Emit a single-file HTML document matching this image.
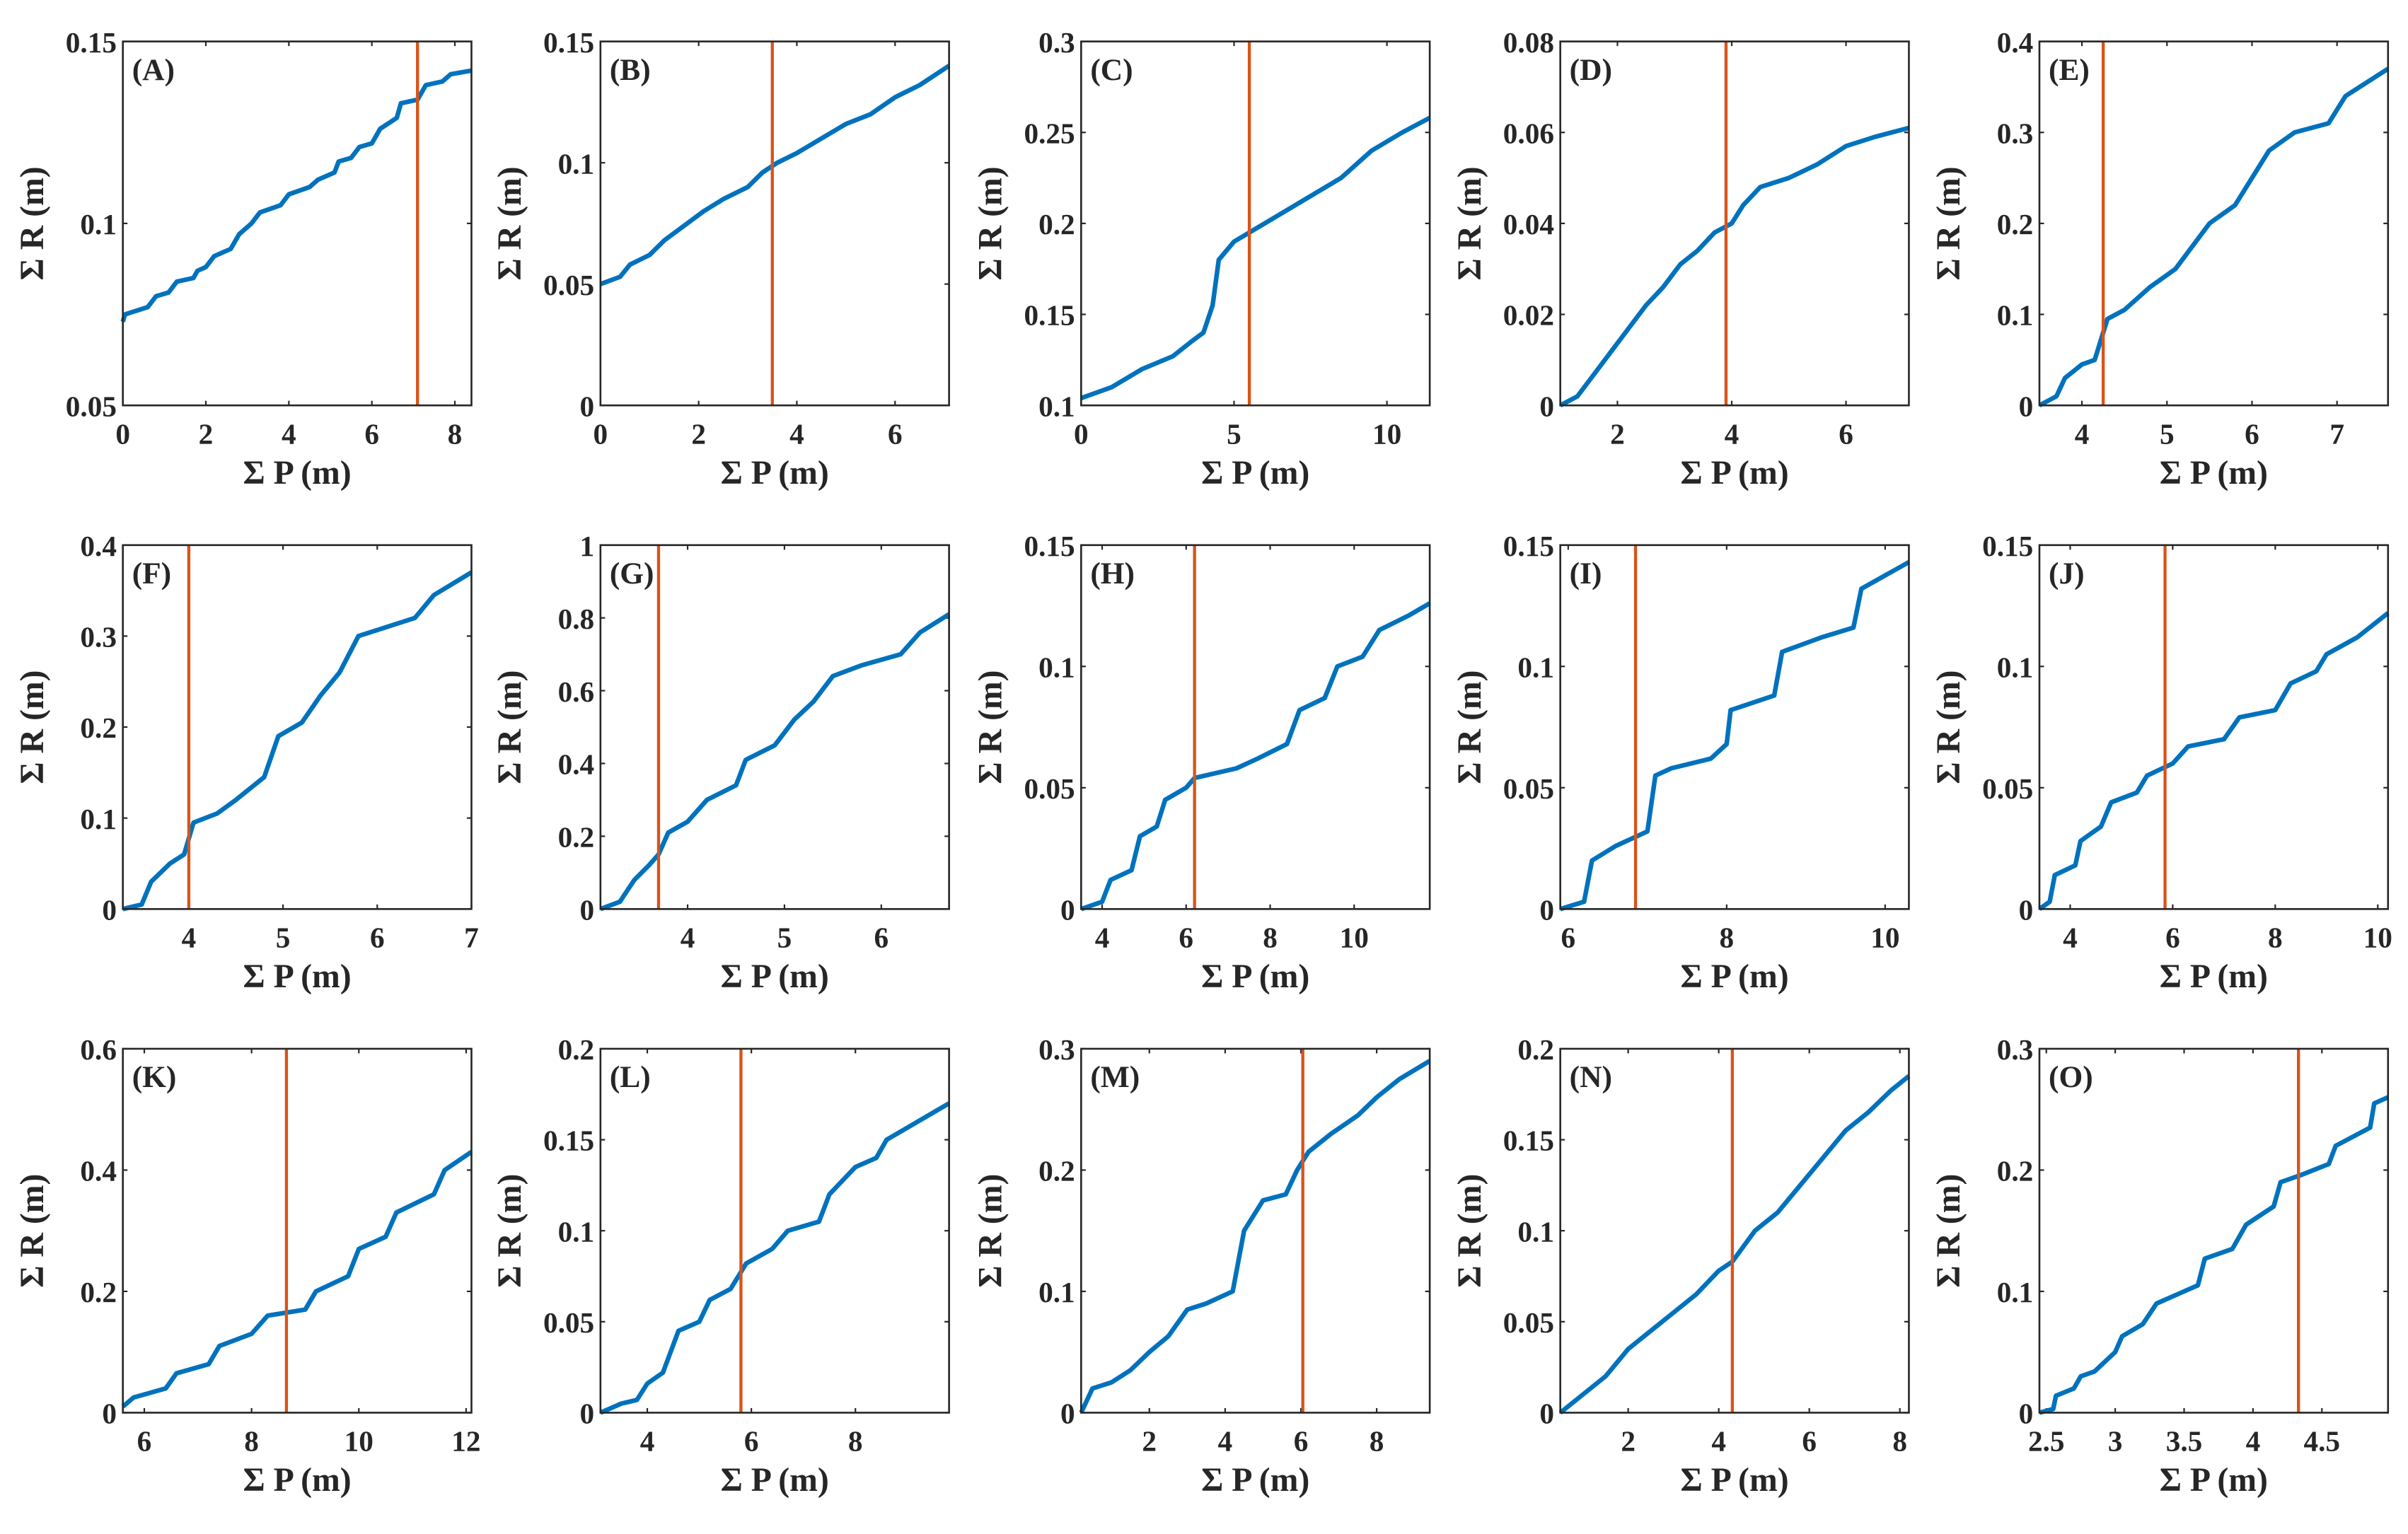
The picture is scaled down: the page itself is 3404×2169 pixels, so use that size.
<!DOCTYPE html>
<html><head><meta charset="utf-8"><style>
html,body{margin:0;padding:0;background:#fff;}
svg{display:block;}
text{font-family:"Liberation Serif",serif;font-weight:bold;fill:#262626;}
</style></head><body>
<svg id="fig" width="3404" height="2169" viewBox="0 0 1568 999" preserveAspectRatio="none" xmlns="http://www.w3.org/2000/svg"></svg>
<script>
const xA=[0,0.05,0.6,0.8,1.1,1.3,1.7,1.8,2.0,2.2,2.6,2.8,3.1,3.3,3.8,4.0,4.5,4.7,5.1,5.2,5.5,5.7,6.0,6.2,6.6,6.7,7.1,7.3,7.7,7.9,8.4];
const yA=[0.073,0.075,0.077,0.080,0.081,0.084,0.085,0.087,0.088,0.091,0.093,0.097,0.100,0.103,0.105,0.108,0.110,0.112,0.114,0.117,0.118,0.121,0.122,0.126,0.129,0.133,0.134,0.138,0.139,0.141,0.142];
const xB=[0,0.4,0.6,1,1.3,1.7,2.1,2.5,3,3.3,3.6,4,4.5,5,5.5,6,6.5,7.1];
const yB=[0.05,0.053,0.058,0.062,0.068,0.074,0.08,0.085,0.09,0.096,0.1,0.104,0.11,0.116,0.12,0.127,0.132,0.14];
const xC=[0,1,2,3,3.6,4,4.3,4.5,5,5.5,6.5,7.5,8.5,9.5,10.5,11.4];
const yC=[0.104,0.11,0.12,0.127,0.135,0.14,0.155,0.18,0.19,0.195,0.205,0.215,0.225,0.24,0.25,0.258];
const xD=[1,1.3,1.6,1.9,2.2,2.5,2.8,3.1,3.4,3.7,4,4.2,4.5,5,5.5,6,6.5,7.1];
const yD=[0,0.002,0.007,0.012,0.017,0.022,0.026,0.031,0.034,0.038,0.04,0.044,0.048,0.05,0.053,0.057,0.059,0.061];
const xE=[3.5,3.7,3.8,4,4.15,4.3,4.5,4.8,5.1,5.3,5.5,5.8,6,6.2,6.5,6.9,7.1,7.6];
const yE=[0,0.01,0.03,0.045,0.05,0.095,0.105,0.13,0.15,0.175,0.2,0.22,0.25,0.28,0.3,0.31,0.34,0.37];
const xF=[3.3,3.5,3.6,3.8,3.95,4.05,4.3,4.5,4.8,4.95,5.2,5.4,5.6,5.8,6.1,6.4,6.6,7];
const yF=[0,0.005,0.03,0.05,0.06,0.095,0.105,0.12,0.145,0.19,0.205,0.235,0.26,0.3,0.31,0.32,0.345,0.37];
const xG=[3.1,3.3,3.45,3.6,3.7,3.8,4,4.2,4.5,4.6,4.9,5.1,5.3,5.5,5.8,6.2,6.4,6.7];
const yG=[0,0.02,0.08,0.12,0.15,0.21,0.24,0.3,0.34,0.41,0.45,0.52,0.57,0.64,0.67,0.7,0.76,0.81];
const xH=[3.5,4,4.2,4.7,4.9,5.3,5.5,6,6.2,7.2,7.7,8.4,8.7,9.3,9.6,10.2,10.6,11.3,11.8];
const yH=[0,0.003,0.012,0.016,0.03,0.034,0.045,0.05,0.054,0.058,0.062,0.068,0.082,0.087,0.1,0.104,0.115,0.121,0.126];
const xI=[5.9,6.2,6.3,6.6,7.0,7.1,7.3,7.8,8.0,8.05,8.6,8.7,9.2,9.6,9.7,10.3];
const yI=[0,0.003,0.02,0.026,0.032,0.055,0.058,0.062,0.068,0.082,0.088,0.106,0.112,0.116,0.132,0.143];
const xJ=[3.4,3.6,3.7,4.1,4.2,4.6,4.8,5.3,5.5,6,6.3,7,7.3,8,8.3,8.8,9,9.6,10.2];
const yJ=[0,0.003,0.014,0.018,0.028,0.034,0.044,0.048,0.055,0.06,0.067,0.07,0.079,0.082,0.093,0.098,0.105,0.112,0.122];
const xK=[5.6,5.8,6.4,6.6,7.2,7.4,8,8.3,9,9.2,9.8,10,10.5,10.7,11.4,11.6,12.1];
const yK=[0.01,0.025,0.04,0.065,0.08,0.11,0.13,0.16,0.17,0.2,0.225,0.27,0.29,0.33,0.36,0.4,0.43];
const xL=[3.1,3.5,3.8,4,4.3,4.6,5,5.2,5.6,5.9,6.4,6.7,7.3,7.5,8,8.4,8.6,9.2,9.8];
const yL=[0,0.005,0.007,0.016,0.022,0.045,0.05,0.062,0.068,0.082,0.09,0.1,0.105,0.12,0.135,0.14,0.15,0.16,0.17];
const xM=[0.2,0.5,1,1.5,2,2.5,3,3.5,4.2,4.5,5,5.6,5.9,6.2,6.8,7.5,8,8.6,9.4];
const yM=[0,0.02,0.025,0.035,0.05,0.063,0.085,0.09,0.1,0.15,0.175,0.18,0.2,0.215,0.23,0.245,0.26,0.275,0.29];
const xN=[0.5,1,1.5,2,2.5,3,3.5,4,4.3,4.8,5.3,5.8,6.3,6.8,7.3,7.8,8.2];
const yN=[0,0.01,0.02,0.035,0.045,0.055,0.065,0.078,0.083,0.1,0.11,0.125,0.14,0.155,0.165,0.177,0.185];
const xO=[2.45,2.55,2.57,2.7,2.75,2.85,3,3.05,3.2,3.3,3.5,3.6,3.65,3.85,3.95,4.15,4.2,4.35,4.55,4.6,4.85,4.88,4.98];
const yO=[0,0.003,0.014,0.02,0.03,0.034,0.05,0.063,0.073,0.09,0.1,0.105,0.127,0.135,0.155,0.17,0.19,0.196,0.205,0.22,0.235,0.255,0.26];
const panelLabels=["A","B","C","D","E","F","G","H","I","J","K","L","M","N","O"];
const xLims=[[0,8.4],[0,7.1],[0,11.4],[1,7.1],[3.5,7.6],[3.3,7],[3.1,6.7],[3.5,11.8],[5.9,10.3],[3.4,10.2],[5.6,12.1],[3.1,9.8],[0.2,9.4],[0.5,8.2],[2.45,4.98]];
const yLims=[[0.05,0.15],[0,0.15],[0.1,0.3],[0,0.08],[0,0.4],[0,0.4],[0,1],[0,0.15],[0,0.15],[0,0.15],[0,0.6],[0,0.2],[0,0.3],[0,0.2],[0,0.3]];
const xTicks=[[0,2,4,6,8],[0,2,4,6],[0,5,10],[2,4,6],[4,5,6,7],[4,5,6,7],[4,5,6],[4,6,8,10],[6,8,10],[4,6,8,10],[6,8,10,12],[4,6,8],[2,4,6,8],[2,4,6,8],[2.5,3,3.5,4,4.5]];
const yTicks=[[0.05,0.1,0.15],[0,0.05,0.1,0.15],[0.1,0.15,0.2,0.25,0.3],[0,0.02,0.04,0.06,0.08],[0,0.1,0.2,0.3,0.4],[0,0.1,0.2,0.3,0.4],[0,0.2,0.4,0.6,0.8,1],[0,0.05,0.1,0.15],[0,0.05,0.1,0.15],[0,0.05,0.1,0.15],[0,0.2,0.4,0.6],[0,0.05,0.1,0.15,0.2],[0,0.1,0.2,0.3],[0,0.05,0.1,0.15,0.2],[0,0.1,0.2,0.3]];
const vLines=[7.1,3.5,5.5,3.9,4.25,4.0,3.7,6.2,6.85,5.85,8.65,5.8,6.05,4.3,4.33];
const seriesX=[xA,xB,xC,xD,xE,xF,xG,xH,xI,xJ,xK,xL,xM,xN,xO];
const seriesY=[yA,yB,yC,yD,yE,yF,yG,yH,yI,yJ,yK,yL,yM,yN,yO];

const NS="http://www.w3.org/2000/svg";
const svg=document.getElementById('fig');
function mk(tag,attrs,parent){const e=document.createElementNS(NS,tag);for(const k in attrs)e.setAttribute(k,attrs[k]);parent.appendChild(e);return e;}
const colL=[80,391,704,1016,1328], rowT=[27,355,683], W=227, H=237;
for(let i=0;i<15;i++){
  const L=colL[i%5], T=rowT[Math.floor(i/5)];
  const g=mk('g',{},svg);
  
  
  const [x0,x1]=xLims[i],[y0,y1]=yLims[i];
  const sx=v=>L+(v-x0)/(x1-x0)*W;
  const sy=v=>T+H-(v-y0)/(y1-y0)*H;
  xTicks[i].forEach(v=>{
    const x=sx(v);
    mk('line',{x1:x,x2:x,y1:T+H,y2:T+H-3,stroke:'#262626','stroke-width':1},g);
    mk('line',{x1:x,x2:x,y1:T,y2:T+3,stroke:'#262626','stroke-width':1},g);
    const t=mk('text',{x:x,y:T+H+25,'text-anchor':'middle','font-size':19},g);t.textContent=String(v);
    
    
  });
  yTicks[i].forEach(v=>{
    const y=sy(v);
    mk('line',{x1:L,x2:L+3,y1:y,y2:y,stroke:'#262626','stroke-width':1},g);
    mk('line',{x1:L+W,x2:L+W-3,y1:y,y2:y,stroke:'#262626','stroke-width':1},g);
    const t=mk('text',{x:L-4,y:y+7,'text-anchor':'end','font-size':19},g);t.textContent=String(v);
    
    
  });
  let d='';
  seriesX[i].forEach((v,j)=>{d+=(j?'L':'M')+sx(v).toFixed(2)+','+sy(seriesY[i][j]).toFixed(2);});
  const p=mk('path',{d:d,fill:'none',stroke:'#0072BD','stroke-width':3,'stroke-linejoin':'round'},g);
  
  
  const vx=sx(vLines[i]);
  const vl=mk('line',{x1:vx,x2:vx,y1:T,y2:T+H,stroke:'#D95319','stroke-width':2},g);
  
  
  const box=mk('rect',{x:L,y:T,width:W,height:H,fill:'none',stroke:'#262626','stroke-width':1.2},g);
  
  
  const pl=mk('text',{x:L+6,y:T+25,'font-size':20,fill:'#000'},g);pl.textContent='('+panelLabels[i]+')';
  
  
  const xl=mk('text',{x:L+W/2,y:T+H+51,'text-anchor':'middle','font-size':22},g);xl.textContent='Σ P (m)';
  
  
  const ylx=L-52;
  const yl=mk('text',{x:ylx,y:T+H/2,'text-anchor':'middle','font-size':22,transform:'rotate(-90 '+ylx+' '+(T+H/2)+')'},g);yl.textContent='Σ R (m)';
  
  
}
</script>
</body></html>
